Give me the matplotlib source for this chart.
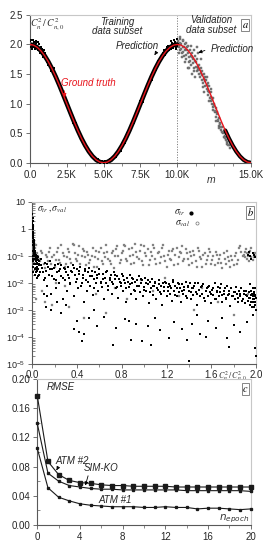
import matplotlib
matplotlib.use("Agg")
import matplotlib.pyplot as plt
import numpy as np
from matplotlib.ticker import FixedLocator, MultipleLocator, FuncFormatter, LogLocator, NullFormatter

plt.rcParams['font.family'] = ['Liberation Sans', 'DejaVu Sans']
plt.rcParams['mathtext.fontset'] = 'stix'
plt.rcParams['font.size'] = 7

# ---------------- Panel a data ----------------
m_gt = [0, 250, 500, 750, 1000, 1250, 1500, 1750, 2000, 2250, 2500, 2750, 3000, 3250, 3500, 3750,
        4000, 4250, 4500, 4750, 5000, 5250, 5500, 5750, 6000, 6250, 6500, 6750, 7000, 7250, 7500,
        7750, 8000, 8250, 8500, 8750, 9000, 9250, 9500, 9750, 10000, 10250, 10500, 10750, 11000,
        11250, 11500, 11750, 12000, 12250, 12500, 12750, 13000, 13250, 13500, 13750, 14000, 14250,
        14500, 14750, 15000]
c_gt = [2.000, 1.988, 1.951, 1.891, 1.809, 1.707, 1.588, 1.454, 1.309, 1.156, 1.000, 0.844, 0.691,
        0.546, 0.412, 0.293, 0.191, 0.109, 0.049, 0.012, 0.000, 0.012, 0.049, 0.109, 0.191, 0.293,
        0.412, 0.546, 0.691, 0.844, 1.000, 1.156, 1.309, 1.454, 1.588, 1.707, 1.809, 1.891, 1.951,
        1.988, 2.000, 1.988, 1.951, 1.891, 1.809, 1.707, 1.588, 1.454, 1.309, 1.156, 1.000, 0.844,
        0.691, 0.546, 0.412, 0.293, 0.191, 0.109, 0.049, 0.012, 0.000]

pred_tr = [(0, 2.05), (60, 1.95), (120, 2.07), (200, 1.96), (280, 2.04), (350, 1.93), (430, 2.02),
           (520, 1.9), (600, 2.0), (700, 1.86), (800, 1.92), (900, 1.78), (1000, 1.86), (1150, 1.7),
           (1300, 1.72), (1450, 1.55), (1600, 1.6), (1750, 1.4), (1900, 1.4), (2050, 1.24),
           (2200, 1.22), (2350, 1.04), (2500, 1.05), (2650, 0.86), (2800, 0.82), (2950, 0.68),
           (3100, 0.67), (3250, 0.52), (3400, 0.5), (3550, 0.36), (3700, 0.34), (3850, 0.22),
           (4000, 0.22), (4150, 0.11), (4300, 0.12), (4450, 0.04), (4600, 0.06), (4750, 0.0),
           (4900, 0.03), (5000, -0.02), (5100, 0.03), (5250, 0.0), (5400, 0.06), (5550, 0.04),
           (5700, 0.12), (5850, 0.1), (6000, 0.22), (6150, 0.2), (6300, 0.34), (6450, 0.34),
           (6600, 0.5), (6750, 0.5), (6900, 0.66), (7050, 0.68), (7200, 0.84), (7350, 0.86),
           (7500, 1.04), (7650, 1.03), (7800, 1.22), (7950, 1.24), (8100, 1.4), (8250, 1.4),
           (8400, 1.58), (8550, 1.57), (8700, 1.72), (8850, 1.7), (9000, 1.86), (9150, 1.82),
           (9300, 1.95), (9450, 1.9), (9600, 2.05), (9700, 1.94), (9800, 2.08), (9900, 1.96),
           (9950, 2.1), (10000, 1.98), (40, 2.08), (160, 1.92), (240, 2.08), (320, 1.98),
           (400, 2.06), (480, 1.94), (560, 2.04), (650, 1.9), (750, 1.96), (850, 1.84), (950, 1.9),
           (1100, 1.76), (1250, 1.66), (1400, 1.6), (1550, 1.52), (1700, 1.45), (2100, 1.28),
           (2600, 0.95), (3000, 0.72), (3500, 0.42), (4100, 0.16), (5700, 0.08), (6200, 0.28),
           (6800, 0.58), (7300, 0.9), (7900, 1.28), (8500, 1.62), (8950, 1.8), (9100, 1.9),
           (9250, 1.86), (9400, 1.98), (9550, 1.92), (9650, 2.02), (9750, 2.0), (9850, 2.04),
           (9920, 1.92)]

pred_val = [(10050, 2.05), (10100, 1.95), (10150, 2.1), (10200, 1.9), (10250, 2.0), (10300, 1.85),
            (10350, 2.05), (10400, 1.95), (10450, 1.8), (10500, 2.0), (10550, 1.9), (10600, 1.75),
            (10650, 1.95), (10700, 1.85), (10750, 1.98), (10800, 1.7), (10850, 1.9), (10900, 1.8),
            (10950, 1.65), (11000, 1.85), (11050, 1.75), (11100, 1.9), (11150, 1.6), (11200, 1.8),
            (11250, 1.7), (11300, 1.55), (11350, 1.75), (11400, 1.85), (11450, 1.5), (11500, 1.65),
            (11550, 1.45), (11600, 1.6), (11650, 1.4), (11700, 1.55), (11750, 1.35), (11800, 1.5),
            (11850, 1.3), (11900, 1.45), (11950, 1.4), (12000, 1.25), (12050, 1.35), (12100, 1.15),
            (12150, 1.3), (12200, 1.1), (12250, 1.2), (12300, 1.05), (12350, 1.0), (12400, 1.1),
            (12450, 0.9), (12500, 1.0), (12550, 0.85), (12600, 0.92), (12650, 0.78), (12700, 0.85),
            (12750, 0.7), (12800, 0.75), (12850, 0.62), (12900, 0.68), (12950, 0.55), (13000, 0.6),
            (13100, 0.5), (13200, 0.45), (13300, 0.38), (13400, 0.35), (13500, 0.3), (13600, 0.25),
            (10200, 2.12), (10400, 2.08), (10600, 2.03), (10900, 1.97), (11100, 1.55), (11300, 1.95),
            (11600, 1.75), (11800, 1.2), (12000, 1.45), (12300, 1.25), (10700, 1.6), (11000, 1.5),
            (10120, 1.85), (10320, 1.78), (10520, 1.7), (10820, 1.6), (11220, 1.45), (11420, 1.62),
            (11720, 1.28), (12120, 1.05), (12420, 0.95), (12620, 0.7), (12820, 0.58), (13050, 0.52),
            (10080, 1.98), (10180, 2.02), (10280, 1.92), (10380, 1.88), (10480, 1.96), (10580, 1.82),
            (10680, 1.9), (10780, 1.78), (10880, 1.72), (10980, 1.78), (11080, 1.68), (11180, 1.72),
            (11280, 1.62), (11380, 1.58), (11480, 1.56), (11580, 1.52), (11680, 1.48), (11780, 1.42),
            (11880, 1.38), (11980, 1.32), (12080, 1.22), (12180, 1.2), (12280, 1.12), (12380, 1.06),
            (12480, 0.96), (12580, 0.88), (12680, 0.82), (12780, 0.72), (12880, 0.66), (12980, 0.6),
            (13150, 0.44), (13250, 0.42), (13350, 0.32), (13450, 0.3)]

# ---------------- Panel b data (x, log10 sigma) ----------------
tr_near0 = [(0.001, 0.55), (0.002, 0.4), (0.003, 0.3), (0.004, 0.15), (0.003, 0.0), (0.005, -0.1),
            (0.006, 0.05), (0.007, -0.2), (0.008, -0.35), (0.009, -0.25), (0.010, -0.45), (0.011, -0.55),
            (0.012, -0.4), (0.013, -0.65), (0.014, -0.5), (0.015, -0.75), (0.016, -0.6), (0.017, -0.85),
            (0.018, -0.7), (0.019, -0.95), (0.02, -0.8), (0.022, -1.0), (0.024, -0.9), (0.026, -1.1),
            (0.028, -0.85), (0.03, -1.05), (0.032, -1.2), (0.034, -0.95), (0.036, -1.3), (0.038, -1.1),
            (0.04, -1.0), (0.042, -1.25), (0.044, -1.4), (0.046, -1.15), (0.048, -1.3), (0.05, -1.05),
            (0.052, -1.5), (0.055, -1.2), (0.058, -1.35), (0.002, -0.3), (0.004, -0.6), (0.006, -0.8),
            (0.008, -1.0), (0.01, -1.2), (0.012, -0.9), (0.003, -1.1), (0.005, -1.4), (0.007, -1.6),
            (0.015, -1.3), (0.02, -1.5), (0.025, -1.7), (0.03, -1.45), (0.035, -1.6), (0.04, -1.8),
            (0.045, -1.55), (0.05, -1.75), (0.001, 0.2), (0.002, 0.1), (0.001, -0.1), (0.002, -0.5)]

tr_band = [(0.06, -1.3), (0.07, -1.6), (0.08, -1.1), (0.09, -1.45), (0.10, -1.9), (0.11, -1.25),
           (0.12, -1.55), (0.13, -2.1), (0.14, -1.4), (0.15, -1.7), (0.16, -1.2), (0.17, -2.4),
           (0.18, -1.5), (0.19, -1.85), (0.20, -1.35), (0.21, -2.2), (0.22, -1.6), (0.23, -1.3),
           (0.24, -2.0), (0.25, -1.5), (0.26, -1.75), (0.27, -2.6), (0.28, -1.45), (0.29, -1.9),
           (0.30, -1.6), (0.31, -2.3), (0.32, -1.4), (0.33, -1.8), (0.34, -2.05), (0.35, -1.55),
           (0.36, -1.35), (0.37, -2.5), (0.38, -1.7), (0.39, -1.95), (0.40, -1.5), (0.41, -2.2),
           (0.42, -1.65), (0.43, -1.4), (0.44, -2.0), (0.45, -1.8), (0.46, -2.7), (0.47, -1.55),
           (0.48, -1.9), (0.49, -2.3), (0.50, -1.6), (0.51, -1.45), (0.52, -2.1), (0.53, -1.75),
           (0.54, -2.45), (0.55, -1.85), (0.56, -1.6), (0.57, -2.0), (0.58, -1.7), (0.59, -2.3),
           (0.60, -1.5), (0.61, -1.95), (0.62, -2.15), (0.63, -1.65), (0.64, -2.6), (0.65, -1.8),
           (0.66, -2.0), (0.67, -1.55), (0.68, -2.25), (0.69, -1.9), (0.70, -1.7), (0.71, -2.4),
           (0.72, -2.05), (0.73, -1.6), (0.74, -1.85), (0.75, -2.2), (0.76, -1.75), (0.77, -2.55),
           (0.78, -1.95), (0.79, -2.1), (0.80, -1.65), (0.81, -2.3), (0.82, -1.9), (0.83, -2.0),
           (0.84, -2.7), (0.85, -1.8), (0.86, -2.15), (0.87, -1.7), (0.88, -2.4), (0.89, -2.0),
           (0.90, -1.85), (0.91, -2.25), (0.92, -1.95), (0.93, -2.6), (0.94, -2.1), (0.95, -1.75),
           (0.96, -2.35), (0.97, -2.0), (0.98, -1.9), (0.99, -2.5), (1.00, -2.15), (1.01, -1.8),
           (1.02, -2.3), (1.03, -2.05), (1.04, -2.75), (1.05, -1.95), (1.06, -2.2), (1.07, -1.85),
           (1.08, -2.45), (1.09, -2.1), (1.10, -2.0), (1.11, -2.6), (1.12, -2.25), (1.13, -1.9),
           (1.14, -2.35), (1.15, -2.1), (1.16, -2.8), (1.17, -2.0), (1.18, -2.3), (1.19, -1.95),
           (1.20, -2.5), (1.21, -2.15), (1.22, -2.05), (1.23, -2.4), (1.24, -2.2), (1.25, -2.65),
           (1.26, -1.9), (1.27, -2.3), (1.28, -2.1), (1.29, -2.5), (1.30, -2.0), (1.31, -2.35),
           (1.32, -2.2), (1.33, -2.7), (1.34, -2.05), (1.35, -2.4), (1.36, -2.25), (1.37, -1.95),
           (1.38, -2.55), (1.39, -2.15), (1.40, -2.3), (1.41, -2.0), (1.42, -2.6), (1.43, -2.2),
           (1.44, -2.45), (1.45, -2.1), (1.46, -2.35), (1.47, -2.8), (1.48, -2.0), (1.49, -2.25),
           (1.50, -2.5), (1.51, -2.15), (1.52, -2.4), (1.53, -2.05), (1.54, -2.65), (1.55, -2.3),
           (1.56, -2.2), (1.57, -2.5), (1.58, -2.1), (1.59, -2.35), (1.60, -2.75), (1.61, -2.25),
           (1.62, -2.45), (1.63, -2.0), (1.64, -2.6), (1.65, -2.3), (1.66, -2.15), (1.67, -2.5),
           (1.68, -2.35), (1.69, -2.05), (1.70, -2.7), (1.71, -2.4), (1.72, -2.2), (1.73, -2.55),
           (1.74, -2.1), (1.75, -2.45), (1.76, -2.3), (1.77, -2.85), (1.78, -2.2), (1.79, -2.5),
           (1.80, -2.35), (1.81, -2.6), (1.82, -2.15), (1.83, -2.4), (1.84, -2.7), (1.85, -2.3),
           (1.86, -2.5), (1.87, -2.2), (1.88, -2.6), (1.89, -2.4), (1.90, -2.75), (1.91, -2.3),
           (1.92, -2.5), (1.93, -2.65), (1.94, -2.35), (1.95, -2.55), (1.96, -2.45), (1.97, -2.7),
           (1.98, -2.4), (1.985, -2.6), (1.99, -2.5), (1.995, -2.8), (2.0, -2.55), (1.975, -2.2),
           (1.965, -2.9), (1.955, -2.3), (1.945, -2.05)]

tr_band2 = [(0.035, -1.5), (0.055, -1.7), (0.075, -1.35), (0.095, -1.6), (0.115, -1.8), (0.135, -1.3),
            (0.155, -1.5), (0.175, -1.75), (0.195, -1.45), (0.215, -1.9), (0.235, -1.55), (0.255, -1.35),
            (0.275, -1.8), (0.295, -1.5), (0.315, -1.7), (0.335, -2.0), (0.355, -1.6), (0.375, -1.45),
            (0.395, -1.85), (0.415, -1.55), (0.435, -2.1), (0.455, -1.7), (0.475, -1.5), (0.495, -1.95),
            (0.515, -1.75), (0.535, -1.55), (0.555, -2.2), (0.575, -1.8), (0.595, -1.65), (0.615, -2.0),
            (0.635, -1.85), (0.655, -1.6), (0.675, -2.1), (0.695, -1.8), (0.715, -1.95), (0.735, -1.7),
            (0.755, -2.15), (0.775, -1.85), (0.795, -2.0), (0.815, -1.75), (0.835, -2.2), (0.855, -1.95),
            (0.875, -2.05), (0.895, -1.8), (0.915, -2.3), (0.935, -1.9), (0.955, -2.1), (0.975, -1.85),
            (0.995, -2.25), (1.015, -2.0), (1.035, -1.9), (1.055, -2.35), (1.075, -2.1), (1.095, -1.95),
            (1.115, -2.2), (1.135, -2.05), (1.155, -2.4), (1.175, -2.15), (1.195, -2.0), (1.215, -2.3),
            (1.235, -2.1), (1.255, -1.95), (1.275, -2.45), (1.295, -2.2), (1.315, -2.05), (1.335, -2.3),
            (1.355, -2.15), (1.375, -2.5), (1.395, -2.1), (1.415, -2.35), (1.435, -2.2), (1.455, -2.0),
            (1.475, -2.4), (1.495, -2.25), (1.515, -2.1), (1.535, -2.55), (1.555, -2.3), (1.575, -2.15),
            (1.595, -2.4), (1.615, -2.2), (1.635, -2.6), (1.655, -2.35), (1.675, -2.2), (1.695, -2.45),
            (1.715, -2.3), (1.735, -2.6), (1.755, -2.4), (1.775, -2.2), (1.795, -2.5), (1.815, -2.35),
            (1.835, -2.55), (1.855, -2.4), (1.875, -2.65), (1.895, -2.3), (1.915, -2.45), (1.935, -2.55),
            (1.955, -2.7), (1.965, -2.4), (1.975, -2.6), (1.985, -2.35), (1.995, -2.5), (1.99, -2.7),
            (1.98, -2.9), (1.97, -2.5), (1.96, -2.3), (1.95, -2.8), (1.995, -2.2), (1.998, -3.0),
            (1.992, -2.45), (1.93, -0.95), (1.95, -1.0), (1.97, -0.9), (1.99, -1.05), (1.96, -1.1),
            (1.94, -0.85), (1.98, -0.95)]

tr_outliers = [(0.10, -2.4), (0.12, -2.9), (0.13, -2.5), (0.17, -3.0), (0.22, -2.7), (0.26, -3.1),
               (0.30, -2.8), (0.37, -3.7), (0.40, -3.4), (0.42, -3.8), (0.44, -4.15), (0.46, -3.9),
               (0.51, -3.3), (0.55, -3.0), (0.58, -3.6), (0.64, -3.25), (0.72, -4.3), (0.75, -3.65),
               (0.83, -3.35), (0.86, -3.4), (0.88, -4.1), (0.93, -3.5), (0.98, -4.15), (1.03, -3.6),
               (1.06, -4.3), (1.10, -3.3), (1.14, -3.75), (1.22, -4.05), (1.27, -3.45), (1.34, -3.7),
               (1.38, -4.1), (1.40, -4.9), (1.43, -3.5), (1.47, -3.2), (1.50, -3.9), (1.55, -4.0),
               (1.57, -3.4), (1.64, -3.65), (1.70, -3.3), (1.74, -4.05), (1.76, -4.35), (1.80, -3.55),
               (1.86, -3.8), (1.92, -3.45), (1.97, -3.2), (1.99, -4.4), (2.0, -4.7)]

val_band = [(0.02, -0.7), (0.04, -0.9), (0.06, -1.1), (0.08, -0.8), (0.10, -1.3), (0.12, -0.95),
            (0.14, -1.2), (0.16, -0.7), (0.18, -1.05), (0.20, -1.4), (0.22, -0.85), (0.24, -1.15),
            (0.26, -0.6), (0.28, -1.0), (0.30, -1.3), (0.32, -0.75), (0.34, -1.1), (0.36, -0.55),
            (0.38, -0.9), (0.40, -1.2), (0.42, -0.65), (0.44, -1.0), (0.46, -0.8), (0.48, -1.35),
            (0.50, -0.95), (0.52, -1.15), (0.54, -0.7), (0.56, -1.05), (0.58, -1.4), (0.60, -0.85),
            (0.62, -1.2), (0.64, -0.9), (0.66, -0.6), (0.68, -1.1), (0.70, -1.3), (0.72, -0.8),
            (0.74, -1.0), (0.76, -0.65), (0.78, -1.25), (0.80, -0.9), (0.82, -0.6), (0.84, -1.1),
            (0.86, -0.75), (0.88, -1.3), (0.90, -0.95), (0.92, -0.55), (0.94, -1.05), (0.96, -0.8),
            (0.98, -1.2), (1.00, -0.65), (1.02, -1.0), (1.04, -1.35), (1.06, -0.85), (1.08, -0.6),
            (1.10, -1.1), (1.12, -0.9), (1.14, -1.25), (1.16, -0.7), (1.18, -1.0), (1.20, -1.4),
            (1.22, -0.8), (1.24, -1.15), (1.26, -0.75), (1.28, -0.95), (1.30, -1.3), (1.32, -0.85),
            (1.34, -0.65), (1.36, -1.1), (1.38, -0.9), (1.40, -1.35), (1.42, -1.0), (1.44, -0.8),
            (1.46, -1.2), (1.48, -0.7), (1.50, -1.05), (1.52, -1.4), (1.54, -0.9), (1.56, -1.15),
            (1.58, -0.75), (1.60, -1.3), (1.62, -1.0), (1.64, -0.85), (1.66, -1.25), (1.68, -0.95),
            (1.70, -1.45), (1.72, -1.1), (1.74, -0.8), (1.76, -1.2), (1.78, -1.0), (1.80, -1.35),
            (1.82, -0.9), (1.84, -1.15), (1.86, -0.65), (1.88, -1.0), (1.90, -0.85), (1.92, -1.1),
            (1.94, -0.9), (1.96, -1.05), (1.98, -0.95), (2.00, -1.0)]

val_band2 = [(0.01, -0.4), (0.03, -0.6), (0.05, -1.0), (0.07, -1.2), (0.09, -0.9), (0.11, -1.45),
             (0.13, -1.05), (0.15, -0.85), (0.17, -1.3), (0.19, -0.95), (0.21, -1.15), (0.23, -0.7),
             (0.25, -1.25), (0.27, -0.9), (0.29, -1.4), (0.31, -1.05), (0.33, -0.85), (0.35, -1.25),
             (0.37, -0.6), (0.39, -1.1), (0.41, -0.95), (0.43, -1.3), (0.45, -0.75), (0.47, -1.05),
             (0.49, -0.85), (0.51, -1.25), (0.53, -1.0), (0.55, -1.4), (0.57, -0.8), (0.59, -1.1),
             (0.61, -0.7), (0.63, -1.3), (0.65, -1.05), (0.67, -0.85), (0.69, -1.2), (0.71, -0.9),
             (0.73, -1.45), (0.75, -0.75), (0.77, -1.0), (0.79, -1.15), (0.81, -0.8), (0.83, -0.65),
             (0.85, -1.2), (0.87, -1.0), (0.89, -0.7), (0.91, -1.25), (0.93, -0.85), (0.95, -1.1),
             (0.97, -0.6), (0.99, -1.35), (1.01, -0.9), (1.03, -0.75), (1.05, -1.15), (1.07, -1.0),
             (1.09, -0.7), (1.11, -1.3), (1.13, -0.85), (1.15, -1.05), (1.17, -0.6), (1.19, -1.2),
             (1.21, -0.95), (1.23, -1.1), (1.25, -0.8), (1.27, -1.35), (1.29, -0.7), (1.31, -1.05),
             (1.33, -0.9), (1.35, -1.2), (1.37, -0.75), (1.39, -1.1), (1.41, -0.85), (1.43, -1.25),
             (1.45, -0.95), (1.47, -1.4), (1.49, -0.8), (1.51, -1.1), (1.53, -0.95), (1.55, -1.3),
             (1.57, -1.0), (1.59, -0.85), (1.61, -1.15), (1.63, -1.35), (1.65, -0.95), (1.67, -1.1),
             (1.69, -1.25), (1.71, -0.9), (1.73, -1.3), (1.75, -1.05), (1.77, -1.4), (1.79, -1.15),
             (1.81, -1.0), (1.83, -1.3), (1.85, -0.7), (1.87, -0.85), (1.89, -0.95), (1.91, -0.75),
             (1.93, -1.0), (1.95, -0.8), (1.97, -1.15), (1.99, -0.9), (1.96, -0.7), (1.98, -1.05),
             (1.94, -1.2), (1.92, -0.9), (1.9, -1.05), (0.005, -0.2), (0.008, 0.1), (0.012, -0.5),
             (0.015, -0.8), (0.004, 0.3)]

val_outliers = [(0.03, -2.6), (0.09, -2.3), (0.11, -2.7), (0.18, -2.8), (0.21, -2.0), (0.29, -2.1),
                (0.33, -2.9), (0.46, -3.3), (0.57, -2.4), (0.66, -3.1), (0.74, -2.2), (0.85, -2.6),
                (0.97, -1.9), (1.08, -2.3), (1.19, -1.8), (1.31, -2.5), (1.45, -3.0), (1.52, -2.2),
                (1.66, -2.7), (1.80, -3.2), (1.93, -2.4)]

# ---------------- Panel c data ----------------
epochs = list(range(21))
rmse_atm2 = [0.177, 0.087, 0.069, 0.061, 0.058, 0.057, 0.055, 0.054, 0.054, 0.053, 0.053,
             0.053, 0.053, 0.052, 0.052, 0.052, 0.052, 0.052, 0.052, 0.052, 0.052]
rmse_simko = [0.139, 0.071, 0.060, 0.054, 0.052, 0.050, 0.049, 0.049, 0.048, 0.048, 0.048,
              0.048, 0.048, 0.048, 0.047, 0.047, 0.047, 0.047, 0.047, 0.047, 0.046]
rmse_atm1 = [0.105, 0.051, 0.038, 0.033, 0.029, 0.027, 0.026, 0.025, 0.025, 0.025, 0.024,
             0.024, 0.025, 0.024, 0.024, 0.022, 0.023, 0.023, 0.022, 0.021, 0.022]

AX_C = '0.35'
FRAME_C = '0.78'


def style_axes(ax):
    for s in ['left', 'bottom']:
        ax.spines[s].set_color(AX_C)
        ax.spines[s].set_linewidth(0.8)
    for s in ['top', 'right']:
        ax.spines[s].set_color(FRAME_C)
        ax.spines[s].set_linewidth(0.8)
    ax.tick_params(which='major', direction='out', length=3, width=0.6, color=AX_C,
                   labelsize=7, pad=2, top=False, right=False, labelcolor='0.15')
    ax.tick_params(which='minor', direction='out', length=1.8, width=0.5, color=AX_C,
                   top=False, right=False)


def box_label(ax, s):
    ax.text(0.985, 0.965, s, transform=ax.transAxes, ha='right', va='top',
            fontsize=7.5, family='STIXGeneral', style='italic',
            bbox=dict(boxstyle='square,pad=0.12', fc='white', ec='0.45', lw=0.6))


fig = plt.figure(figsize=(2.72, 5.5), dpi=100)

# ---------------- Panel a ----------------
ax = fig.add_axes([0.110, 0.704, 0.813, 0.269])
style_axes(ax)
mtr = [m for m in m_gt if m <= 10000]
ctr = c_gt[:len(mtr)]
ax.plot(mtr, ctr, color='black', lw=3.3, solid_capstyle='round', zorder=2)
mtail = [m for m in m_gt if m >= 13250]
ctail = c_gt[len(m_gt) - len(mtail):]
ax.plot(mtail, ctail, color='black', lw=3.0, solid_capstyle='round', zorder=2)
vx, vy = zip(*pred_val)
ax.scatter(vx, vy, s=3.5, marker='s', color='0.55', edgecolors='0.25', linewidths=0.25, zorder=3)
px, py = zip(*pred_tr)
ax.scatter(px, py, s=2.8, marker='s', color='black', linewidths=0, zorder=3)
ax.plot(m_gt, c_gt, color='#e8141c', lw=1.0, zorder=4)
ax.axvline(10000, color='0.5', lw=0.7, ls=(0, (1.2, 1.5)), zorder=1)
ax.set_xlim(0, 15000)
ax.set_ylim(0, 2.5)
ax.xaxis.set_major_locator(FixedLocator([0, 2500, 5000, 7500, 10000, 15000]))
ax.xaxis.set_major_formatter(FuncFormatter(lambda v, p: '0.0' if v == 0 else f'{v/1000:.1f}K'))
ax.xaxis.set_minor_locator(MultipleLocator(1250))
ax.yaxis.set_major_locator(MultipleLocator(0.5))
ax.yaxis.set_major_formatter(FuncFormatter(lambda v, p: f'{v:.1f}'))
ax.text(12300, -0.2, 'm', fontsize=7.5, style='italic', ha='center', va='top', color='0.2')
ax.text(1150, 2.33, r'$C_n^2\,/\,C_{n,0}^2$', fontsize=7, ha='center', va='center', color='0.2')
ax.text(5900, 2.3, 'Training\ndata subset', fontsize=7, style='italic', ha='center',
        va='center', linespacing=0.95, color='0.15')
ax.text(12300, 2.33, 'Validation\ndata subset', fontsize=7, style='italic', ha='center',
        va='center', linespacing=0.95, color='0.15')
ax.annotate('Prediction', xy=(8450, 1.82), xytext=(7300, 1.97), fontsize=7, style='italic',
            ha='center', va='center', color='0.15',
            arrowprops=dict(arrowstyle='-|>', color='black', lw=0.6, mutation_scale=5,
                            shrinkA=0, shrinkB=0, relpos=(1.0, 0.3)))
ax.annotate('Prediction', xy=(11420, 1.86), xytext=(13700, 1.93), fontsize=7, style='italic',
            ha='center', va='center', color='0.15',
            arrowprops=dict(arrowstyle='-|>', color='black', lw=0.6, mutation_scale=5,
                            shrinkA=2, shrinkB=0, relpos=(0.0, 0.5)))
ax.annotate('Ground truth', xy=(2380, 1.11), xytext=(3960, 1.35), fontsize=7, style='italic',
            ha='center', va='center', color='#e8141c',
            arrowprops=dict(arrowstyle='-|>', color='#e8141c', lw=0.6, mutation_scale=5,
                            shrinkA=0, shrinkB=0, relpos=(0.05, 0.2)))
box_label(ax, 'a')

# ---------------- Panel b ----------------
ax = fig.add_axes([0.119, 0.338, 0.822, 0.295])
style_axes(ax)
ax.set_yscale('log')
for pts in [val_band, val_band2, val_outliers]:
    x, ly = zip(*pts)
    ax.scatter(x, np.power(10.0, ly), s=2.6, marker='s', color='0.55', edgecolors='0.4',
               linewidths=0.15, zorder=2)
for pts in [tr_near0, tr_band, tr_band2, tr_outliers]:
    x, ly = zip(*pts)
    ax.scatter(x, np.power(10.0, ly), s=2.6, marker='s', color='black', linewidths=0, zorder=3)
ax.set_xlim(0, 2.0)
ax.set_ylim(1e-5, 10)
ax.xaxis.set_major_locator(FixedLocator([0.0, 0.4, 0.8, 1.2, 1.6, 2.0]))
ax.xaxis.set_major_formatter(FuncFormatter(lambda v, p: f'{v:.1f}'))
ax.xaxis.set_minor_locator(MultipleLocator(0.2))
ax.tick_params(axis='x', which='major', pad=1.5)
ax.yaxis.set_major_locator(FixedLocator([1e-5, 1e-4, 1e-3, 1e-2, 1e-1, 1, 10]))
ylab = {-5: r'$\mathregular{10^{-5}}$', -4: r'$\mathregular{10^{-4}}$',
        -3: r'$\mathregular{10^{-3}}$', -2: r'$\mathregular{10^{-2}}$',
        -1: r'$\mathregular{10^{-1}}$', 0: '1', 1: '10'}
ax.yaxis.set_major_formatter(FuncFormatter(lambda v, p: ylab.get(int(round(np.log10(v))), '')))
ax.yaxis.set_minor_locator(LogLocator(base=10, subs=np.arange(2, 10) * 1.0, numticks=20))
ax.yaxis.set_minor_formatter(NullFormatter())
ax.tick_params(axis='y', which='minor', direction='in', length=2)
ax.tick_params(axis='y', which='major', labelsize=6.5)
ax.text(0.02, 0.955, r'$\sigma_{tr}\,,\sigma_{val}$', transform=ax.transAxes, fontsize=7,
        ha='left', va='center', color='0.15')
ax.text(0.66, 0.93, r'$\sigma_{tr}$', transform=ax.transAxes, fontsize=7, ha='center',
        va='center', color='0.15')
ax.scatter([0.71], [0.93], transform=ax.transAxes, s=4, marker='o', color='black', zorder=4)
ax.text(0.67, 0.867, r'$\sigma_{val}$', transform=ax.transAxes, fontsize=7, ha='center',
        va='center', color='0.15')
ax.scatter([0.738], [0.869], transform=ax.transAxes, s=5, marker='o', facecolors='white',
           edgecolors='0.45', linewidths=0.5, zorder=4)
ax.text(0.893, -0.035, r'$C_n^2\,/\,C_{n,0}^2$', transform=ax.transAxes, fontsize=5.8,
        ha='center', va='top', color='0.2')
box_label(ax, 'b')

# ---------------- Panel c ----------------
ax = fig.add_axes([0.137, 0.0455, 0.785, 0.2655])
style_axes(ax)
ax.plot(epochs, rmse_atm2, color='0.1', lw=0.8, marker='s', ms=2.3, zorder=3, clip_on=False)
ax.plot(epochs, rmse_simko, color='0.1', lw=0.8, marker='s', ms=2.0, zorder=3, clip_on=False)
ax.plot(epochs, rmse_atm1, color='0.1', lw=0.8, marker='s', ms=1.4, zorder=3, clip_on=False)
ax.set_xlim(0, 20)
ax.set_ylim(0, 0.2)
ax.xaxis.set_major_locator(MultipleLocator(4))
ax.xaxis.set_minor_locator(MultipleLocator(2))
ax.yaxis.set_major_locator(MultipleLocator(0.04))
ax.yaxis.set_major_formatter(FuncFormatter(lambda v, p: f'{v:.2f}'))
ax.yaxis.set_minor_locator(MultipleLocator(0.02))
ax.tick_params(axis='y', which='minor', direction='in', length=2)
ax.text(0.9, 0.189, 'RMSE', fontsize=7, style='italic', ha='left', va='center', color='0.15')
ax.annotate('ATM #2', xy=(1.8, 0.075), xytext=(3.3, 0.087), fontsize=7, style='italic',
            ha='center', va='center', color='0.15',
            arrowprops=dict(arrowstyle='-|>', color='black', lw=0.6, mutation_scale=5,
                            shrinkA=0, shrinkB=0, relpos=(0.1, 0.1)))
ax.annotate('SIM-KO', xy=(4.5, 0.054), xytext=(6.0, 0.078), fontsize=7, style='italic',
            ha='center', va='center', color='0.15',
            arrowprops=dict(arrowstyle='-|>', color='black', lw=0.6, mutation_scale=5,
                            shrinkA=0, shrinkB=0, relpos=(0.15, 0.1)))
ax.text(7.3, 0.034, 'ATM #1', fontsize=7, style='italic', ha='center', va='center', color='0.15')
ax.text(18.4, 0.009, r'$n_{epoch}$', fontsize=7.5, ha='center', va='center', color='0.2',
        math_fontfamily='dejavusans')
box_label(ax, 'c')

fig.savefig('out.png', dpi=100)
